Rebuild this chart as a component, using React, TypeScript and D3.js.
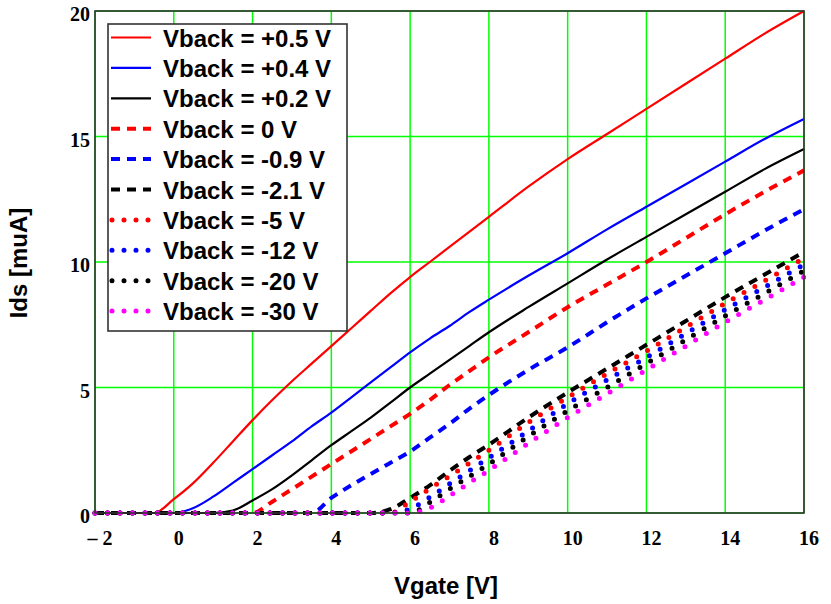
import { useEffect, useRef } from "react";
import * as d3 from "d3";

// gate voltage samples shared by every curve
const vgate = [
  -2, -1, -0.5, 0, 0.5, 1, 1.5, 2, 2.5, 3, 3.5, 4, 4.5, 5, 5.5, 6, 6.5, 7, 7.5,
  8, 9, 10, 11, 12, 13, 14, 15, 16,
];

const idsP05 = [
  0, 0, 0, 0.55, 1.2, 2.0, 2.85, 3.7, 4.5, 5.25, 5.95, 6.65, 7.35, 8.05, 8.75,
  9.4, 10.0, 10.6, 11.2, 11.8, 13.0, 14.1, 15.1, 16.1, 17.1, 18.1, 19.1, 20.0,
];
const idsP04 = [
  0, 0, 0, 0, 0.2, 0.65, 1.2, 1.75, 2.3, 2.85, 3.45, 4.0, 4.6, 5.2, 5.8, 6.4,
  6.95, 7.45, 8.0, 8.5, 9.45, 10.35, 11.3, 12.2, 13.1, 14.0, 14.9, 15.7,
];
const idsP02 = [
  0, 0, 0, 0, 0, 0, 0.1, 0.5, 0.95, 1.5, 2.1, 2.7, 3.25, 3.8, 4.4, 5.0, 5.55,
  6.1, 6.65, 7.2, 8.2, 9.15, 10.1, 11.0, 11.9, 12.8, 13.7, 14.5,
];
const ids0 = [
  0, 0, 0, 0, 0, 0, 0, 0, 0.45, 0.95, 1.45, 1.95, 2.45, 2.95, 3.45, 3.95, 4.5,
  5.1, 5.65, 6.2, 7.2, 8.2, 9.1, 10.0, 10.95, 11.9, 12.8, 13.65,
];
const idsM09 = [
  0, 0, 0, 0, 0, 0, 0, 0, 0, 0, 0, 0.6, 1.1, 1.55, 2.0, 2.45, 3.0, 3.55, 4.15,
  4.7, 5.7, 6.6, 7.6, 8.55, 9.45, 10.35, 11.25, 12.1,
];
const idsM21 = [
  0, 0, 0, 0, 0, 0, 0, 0, 0, 0, 0, 0, 0, 0, 0.15, 0.6, 1.1, 1.68, 2.22, 2.72,
  3.8, 4.8, 5.75, 6.7, 7.65, 8.6, 9.5, 10.4,
];
const idsM5 = [
  0, 0, 0, 0, 0, 0, 0, 0, 0, 0, 0, 0, 0, 0, 0, 0.45, 0.97, 1.47, 1.98, 2.5,
  3.6, 4.6, 5.55, 6.45, 7.4, 8.35, 9.25, 10.15,
];
const idsM12 = [
  0, 0, 0, 0, 0, 0, 0, 0, 0, 0, 0, 0, 0, 0, 0, 0.16, 0.63, 1.16, 1.68, 2.2,
  3.27, 4.35, 5.3, 6.2, 7.15, 8.1, 9.0, 9.9,
];
const idsM20 = [
  0, 0, 0, 0, 0, 0, 0, 0, 0, 0, 0, 0, 0, 0, 0, 0, 0.42, 0.95, 1.45, 1.95,
  3.05, 4.07, 5.0, 5.95, 6.9, 7.85, 8.75, 9.65,
];
const idsM30 = [
  0, 0, 0, 0, 0, 0, 0, 0, 0, 0, 0, 0, 0, 0, 0, 0, 0.2, 0.68, 1.2, 1.7, 2.77,
  3.8, 4.75, 5.7, 6.65, 7.6, 8.5, 9.4,
];

const seriesLabels = [
  "Vback = +0.5 V",
  "Vback = +0.4 V",
  "Vback = +0.2 V",
  "Vback = 0 V",
  "Vback = -0.9 V",
  "Vback = -2.1 V",
  "Vback = -5 V",
  "Vback = -12 V",
  "Vback = -20 V",
  "Vback = -30 V",
];
const seriesValues = [
  idsP05, idsP04, idsP02, ids0, idsM09, idsM21, idsM5, idsM12, idsM20, idsM30,
];
const seriesColors = [
  "#ff0000", "#0000ff", "#000000", "#ff0000", "#0000ff", "#000000",
  "#ff0000", "#0000ff", "#000000", "#ff00ff",
];
const seriesStyles = [
  "solid", "solid", "solid", "dash", "dash", "dash", "dot", "dot", "dot", "dot",
];

const xTicks = [-2, 0, 2, 4, 6, 8, 10, 12, 14, 16];
const yTicks = [0, 5, 10, 15, 20];

const serif = "'Liberation Serif', 'Times New Roman', serif";
const sans = "'Liberation Sans', Arial, sans-serif";

const styleOf = (s: string) => {
  if (s === "dash") return { width: 4, dash: "9 7", cap: "butt" };
  if (s === "dot") return { width: 5, dash: "0 12.5", cap: "round" };
  return { width: 2.2, dash: null, cap: "butt" };
};

const App = () => {
  const svgRef = useRef<SVGSVGElement | null>(null);

  useEffect(() => {
    d3.select(svgRef.current).selectAll("*").remove();

    const width = 831;
    const height = 604;
    const margin = { top: 11, right: 27, bottom: 91, left: 95 };
    const innerW = width - margin.left - margin.right;
    const innerH = height - margin.top - margin.bottom;

    const svg = d3
      .select(svgRef.current)
      .attr("width", width)
      .attr("height", height);

    svg.append("rect").attr("width", width).attr("height", height).attr("fill", "#fff");

    const g = svg
      .append("g")
      .attr("transform", `translate(${margin.left},${margin.top})`);

    const x = d3.scaleLinear().domain([-2, 16]).range([0, innerW]);
    const y = d3.scaleLinear().domain([0, 20]).range([innerH, 0]);

    // grid
    g.append("g")
      .selectAll("line")
      .data(xTicks)
      .enter()
      .append("line")
      .attr("x1", (d) => x(d))
      .attr("x2", (d) => x(d))
      .attr("y1", 0)
      .attr("y2", innerH)
      .attr("stroke", "#00ff00")
      .attr("stroke-width", 1.5);
    g.append("g")
      .selectAll("line")
      .data(yTicks)
      .enter()
      .append("line")
      .attr("x1", 0)
      .attr("x2", innerW)
      .attr("y1", (d) => y(d))
      .attr("y2", (d) => y(d))
      .attr("stroke", "#00ff00")
      .attr("stroke-width", 1.5);

    // tick labels
    g.append("g")
      .selectAll("text")
      .data(xTicks)
      .enter()
      .append("text")
      .attr("x", (d) => x(d) + 5)
      .attr("y", innerH + 32)
      .attr("text-anchor", "middle")
      .style("font-family", serif)
      .style("font-weight", "bold")
      .style("font-size", "20px")
      .text((d) => (d < 0 ? `\u2013 ${Math.abs(d)}` : `${d}`));
    g.append("g")
      .selectAll("text")
      .data(yTicks)
      .enter()
      .append("text")
      .attr("x", -5)
      .attr("y", (d) => y(d) + 10)
      .attr("text-anchor", "end")
      .style("font-family", serif)
      .style("font-weight", "bold")
      .style("font-size", "20px")
      .text((d) => `${d}`);

    // curves
    const line = d3
      .line<number>()
      .x((_, i) => x(vgate[i]))
      .y((d) => y(d))
      .curve(d3.curveMonotoneX);

    seriesValues.forEach((vals, i) => {
      const st = styleOf(seriesStyles[i]);
      g.append("path")
        .attr("d", line(vals) || "")
        .attr("fill", "none")
        .attr("stroke", seriesColors[i])
        .attr("stroke-width", st.width)
        .attr("stroke-linecap", st.cap)
        .attr("stroke-dasharray", st.dash);
    });

    // frame
    g.append("rect")
      .attr("width", innerW)
      .attr("height", innerH)
      .attr("fill", "none")
      .attr("stroke", "#333")
      .attr("stroke-width", 1.6);

    // axis titles
    svg
      .append("text")
      .attr("x", 446)
      .attr("y", 594)
      .attr("text-anchor", "middle")
      .style("font-family", sans)
      .style("font-weight", "bold")
      .style("font-size", "24px")
      .text("Vgate [V]");
    svg
      .append("text")
      .attr("transform", "translate(27,263) rotate(-90)")
      .attr("text-anchor", "middle")
      .style("font-family", sans)
      .style("font-weight", "bold")
      .style("font-size", "24px")
      .text("Ids [muA]");

    // legend
    const leg = svg.append("g").attr("transform", "translate(108,24)");
    leg
      .append("rect")
      .attr("width", 239)
      .attr("height", 307)
      .attr("fill", "#fff")
      .attr("stroke", "#333")
      .attr("stroke-width", 1.6);
    const rowH = 30.4;
    const rows = leg
      .selectAll("g.row")
      .data(seriesLabels)
      .enter()
      .append("g")
      .attr("class", "row")
      .attr("transform", (_, i) => `translate(0,${13.5 + i * rowH})`);
    rows
      .append("line")
      .attr("x1", (_, i) => (seriesStyles[i] === "dot" ? 4 : 3))
      .attr("x2", 43)
      .attr("y1", 0)
      .attr("y2", 0)
      .attr("stroke", (_, i) => seriesColors[i])
      .attr("stroke-width", (_, i) => styleOf(seriesStyles[i]).width)
      .attr("stroke-linecap", (_, i) => styleOf(seriesStyles[i]).cap)
      .attr("stroke-dasharray", (_, i) =>
        seriesStyles[i] === "dot" ? "0 12" : styleOf(seriesStyles[i]).dash
      );
    rows
      .append("text")
      .attr("x", 55)
      .attr("y", 9)
      .style("font-family", sans)
      .style("font-weight", "bold")
      .style("font-size", "24px")
      .text((d) => d);
  });

  return (
    <div style={{ position: "absolute", left: 0, top: 0 }}>
      <svg ref={svgRef} />
    </div>
  );
};

export default App;
